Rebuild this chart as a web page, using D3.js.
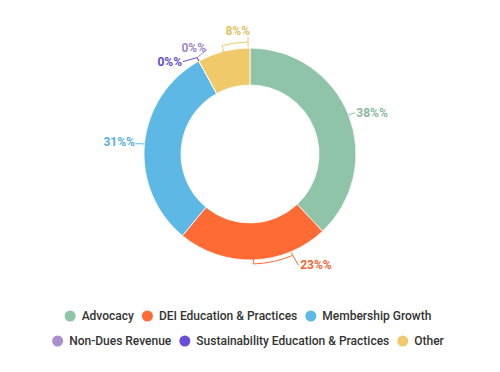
<!DOCTYPE html>
<html>
<head>
<meta charset="utf-8">
<script src="https://cdn.jsdelivr.net/npm/d3@7"></script>
<style>
  body { margin: 0; background: #fff; }
  svg { font-family: Roboto, "Noto Sans", sans-serif; display: block; }
</style>
</head>
<body>
<div id="chart"></div>
<script>
// data
const categories = ['Advocacy', 'DEI Education & Practices', 'Membership Growth',
                    'Non-Dues Revenue', 'Sustainability Education & Practices', 'Other']
const values = [38, 23, 31, 0, 0, 8]
const labels = ['38%%', '23%%', '31%%', '0%%', '0%%', '8%%']
const colors = ['#8fc4a8', '#ff6b35', '#5eb8e6', '#a98ed0', '#6a4edb', '#f0c96a']

// label placement (bracket end angle in deg, elbow gap, leader offset, text offset)
const labelLayout = [
    {bracket: null,  gap: 3, lead: [4, -1],  text: [1, 4],    anchor: 'start'},
    {bracket: 157.2, gap: 4, lead: [6, 10],  text: [1.5, 4],  anchor: 'start'},
    {bracket: null,  gap: 3, lead: [-6, 0],  text: [-0.5, 2], anchor: 'end'},
    {bracket: null,  gap: 4, lead: [10, -8], text: [-1, 2],   anchor: 'end'},
    {bracket: null,  gap: 4, lead: [-14, 4], text: [-1, 4],   anchor: 'end'},
    {bracket: 359,   gap: 6, lead: [0, -5],  text: [2, -2],   anchor: 'end'}
]

class DonutChart {
    constructor(_config) {
        this.config = {
            parentElement: _config.parentElement,
            width: 500,
            height: 372,
            cx: 250,
            cy: 154,
            outer: 106,
            inner: 69,
            legendRows: [316, 341]
        }
        this.data = categories.map((c, i) => ({name: c, value: values[i], label: labels[i], color: colors[i], layout: labelLayout[i]}))
        this.initVis()
    }

    initVis() {
        let vis = this
        let cfg = vis.config

        vis.svg = d3.select(cfg.parentElement)
            .append('svg')
                .attr('width', cfg.width)
                .attr('height', cfg.height)

        vis.g = vis.svg.append('g')
            .attr('transform', 'translate(' + cfg.cx + ',' + cfg.cy + ')')

        vis.pie = d3.pie().sort(null).value(d => d.value)
        vis.arc = d3.arc().innerRadius(cfg.inner).outerRadius(cfg.outer)

        let arcs = vis.pie(vis.data)

        vis.g.selectAll('path.slice')
            .data(arcs)
            .join('path')
                .attr('class', 'slice')
                .attr('d', vis.arc)
                .attr('fill', d => d.data.color)
                .attr('stroke', '#fff')
                .attr('stroke-width', 0.8)

        const pt = (deg, r) => {
            let a = deg * Math.PI / 180
            return [Math.sin(a) * r, -Math.cos(a) * r]
        }

        // leader lines + labels
        arcs.forEach(d => {
            let lay = d.data.layout
            let mid = (d.startAngle + d.endAngle) / 2 * 180 / Math.PI
            let R = cfg.outer
            let rr = R + lay.gap
            let p = d3.path()
            let end
            if (lay.bracket !== null) {
                let s = pt(mid, R - 1)
                p.moveTo(s[0], s[1])
                let a0 = pt(mid, rr)
                p.lineTo(a0[0], a0[1])
                let ccw = lay.bracket < mid
                p.arc(0, 0, rr, (mid - 90) * Math.PI / 180, (lay.bracket - 90) * Math.PI / 180, ccw)
                end = pt(lay.bracket, rr)
                let t = pt(lay.bracket, R + 1)
                p.lineTo(t[0], t[1])
                p.moveTo(end[0], end[1])
            } else {
                let s = pt(mid, R)
                p.moveTo(s[0], s[1])
                end = pt(mid, rr)
                p.lineTo(end[0], end[1])
            }
            let L = [end[0] + lay.lead[0], end[1] + lay.lead[1]]
            p.lineTo(L[0], L[1])

            vis.g.append('path')
                .attr('d', p.toString())
                .attr('fill', 'none')
                .attr('stroke', d.data.color)
                .attr('stroke-width', 1)

            vis.g.append('text')
                .attr('x', L[0] + lay.text[0])
                .attr('y', L[1] + lay.text[1])
                .attr('text-anchor', lay.anchor)
                .attr('fill', d3.color(d.data.color).darker(0.15))
                .style('font-size', '12px')
                .style('font-weight', 700)
                .text(d.data.label)
        })

        // legend, wrapped into centered rows
        let rows = [vis.data.slice(0, 3), vis.data.slice(3)]
        rows.forEach((row, ri) => {
            let lg = vis.svg.append('g')
            let x = 0
            row.forEach(d => {
                lg.append('circle')
                    .attr('cx', x + 5.5)
                    .attr('cy', 0)
                    .attr('r', 5.5)
                    .attr('fill', d.color)
                let t = lg.append('text')
                    .attr('x', x + 17)
                    .attr('y', 4.3)
                    .attr('fill', '#333')
                    .style('font-size', '12px')
                    .style('font-weight', 500)
                    .text(d.name)
                x += 17 + t.node().getComputedTextLength() + 8
            })
            let w = x - 8
            lg.attr('transform', 'translate(' + (248 - w / 2) + ',' + cfg.legendRows[ri] + ')')
        })
    }
}

new DonutChart({parentElement: '#chart'})
</script>
</body>
</html>
